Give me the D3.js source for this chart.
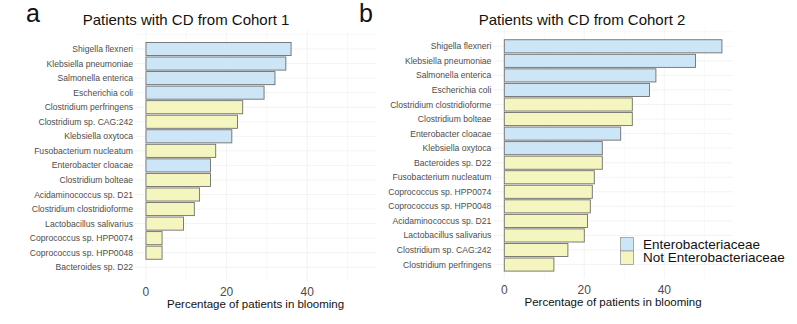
<!DOCTYPE html>
<html>
<head>
<meta charset="utf-8">
<script src="https://cdn.jsdelivr.net/npm/d3@7"></script>
<style>
  body { margin: 0; background: #fff; }
  svg { font-family: "Liberation Sans", Arial, sans-serif; display: block; }
  .grid line { stroke: #ebebeb; stroke-width: 0.6; }
  .grid line.minor { stroke: #f3f3f3; }
  .ylab { fill: #4d4d4d; font-size: 8.6px; }
  .xtick { fill: #4d4d4d; font-size: 12px; }
</style>
</head>
<body>
<div id="chart"></div>
<script>
// cohort 1 (panel a)
const speciesA = ["Shigella flexneri", "Klebsiella pneumoniae", "Salmonella enterica", "Escherichia coli",
  "Clostridium perfringens", "Clostridium sp. CAG:242", "Klebsiella oxytoca", "Fusobacterium nucleatum",
  "Enterobacter cloacae", "Clostridium bolteae", "Acidaminococcus sp. D21", "Clostridium clostridioforme",
  "Lactobacillus salivarius", "Coprococcus sp. HPP0074", "Coprococcus sp. HPP0048", "Bacteroides sp. D22"];
const valuesA = [36.0, 34.7, 32.0, 29.3, 24.0, 22.7, 21.3, 17.3, 16.0, 16.0, 13.3, 12.0, 9.3, 4.0, 4.0, 0];
const enteroA = [1, 1, 1, 1, 0, 0, 1, 0, 1, 0, 0, 0, 0, 0, 0, 0];

// cohort 2 (panel b)
const speciesB = ["Shigella flexneri", "Klebsiella pneumoniae", "Salmonella enterica", "Escherichia coli",
  "Clostridium clostridioforme", "Clostridium bolteae", "Enterobacter cloacae", "Klebsiella oxytoca",
  "Bacteroides sp. D22", "Fusobacterium nucleatum", "Coprococcus sp. HPP0074", "Coprococcus sp. HPP0048",
  "Acidaminococcus sp. D21", "Lactobacillus salivarius", "Clostridium sp. CAG:242", "Clostridium perfringens"];
const valuesB = [54.4, 47.8, 37.9, 36.3, 32.0, 32.0, 29.1, 24.5, 24.5, 22.5, 22.0, 21.5, 20.8, 20.0, 15.9, 12.4];
const enteroB = [1, 1, 1, 1, 0, 0, 1, 1, 0, 0, 0, 0, 0, 0, 0, 0];

const xTicks = [0, 20, 40];
const xMinor = [10, 30, 50];
const legendLabels = ["Enterobacteriaceae", "Not Enterobacteriaceae"];
const fills = {1: "#cce5f7", 0: "#f5f5bf"};

const W = 797, H = 324;
const svg = d3.select("#chart").append("svg").attr("width", W).attr("height", H);

const xMax = d3.max(valuesA.concat(valuesB));

function drawPanel(p) {
  const data = p.species.map((s, i) => ({name: s, value: p.values[i], entero: p.entero[i]}));
  const step = 14.55;

  const x = d3.scaleLinear()
    .domain([-0.05 * xMax, xMax * 1.05])
    .range([p.left, p.right]);

  const y = d3.scalePoint()
    .domain(data.map(d => d.name))
    .range([p.firstY, p.firstY + step * (data.length - 1)]);

  const top = p.firstY - 1.3 * step, bottom = p.firstY + step * (data.length - 1) + 0.95 * step;

  const g = svg.append("g");

  // grid
  const grid = g.append("g").attr("class", "grid");
  grid.selectAll(".vmin").data(xMinor).enter().append("line")
    .attr("class", "minor")
    .attr("x1", d => x(d)).attr("x2", d => x(d)).attr("y1", top).attr("y2", bottom);
  grid.selectAll(".vmaj").data(xTicks).enter().append("line")
    .attr("x1", d => x(d)).attr("x2", d => x(d)).attr("y1", top).attr("y2", bottom);
  grid.selectAll(".h").data(data).enter().append("line")
    .attr("x1", p.left).attr("x2", p.right)
    .attr("y1", d => y(d.name)).attr("y2", d => y(d.name));
  grid.append("line").attr("class", "minor")
    .attr("x1", p.left).attr("x2", p.right).attr("y1", p.firstY - step).attr("y2", p.firstY - step);

  // bars
  const bh = step * 0.9;
  g.selectAll(".bar").data(data).enter().append("rect")
    .attr("x", x(0))
    .attr("y", d => y(d.name) - bh / 2)
    .attr("width", d => x(d.value) - x(0))
    .attr("height", bh)
    .attr("fill", d => fills[d.entero])
    .attr("stroke", "#6e6e6e")
    .attr("stroke-width", 0.9);

  // y labels
  g.selectAll(".ylab").data(data).enter().append("text")
    .attr("class", "ylab")
    .attr("x", p.left - 2)
    .attr("y", d => y(d.name))
    .attr("dy", "0.35em")
    .attr("text-anchor", "end")
    .text(d => d.name);

  // x tick labels
  g.selectAll(".xtick").data(xTicks).enter().append("text")
    .attr("class", "xtick")
    .attr("x", d => x(d))
    .attr("y", p.tickY)
    .attr("dy", "0.35em")
    .attr("text-anchor", "middle")
    .text(d => d);

  g.append("text")
    .attr("x", (p.left + p.right) / 2)
    .attr("y", p.tickY + 12.5)
    .attr("dy", "0.35em")
    .attr("text-anchor", "middle")
    .attr("font-size", "11.5px")
    .attr("fill", "#111")
    .text("Percentage of patients in blooming");

  g.append("text")
    .attr("x", p.titleX)
    .attr("y", 20)
    .attr("dy", "0.35em")
    .attr("text-anchor", "middle")
    .attr("font-size", "15px")
    .attr("fill", "#111")
    .text(p.title);

  g.append("text")
    .attr("x", p.letterX)
    .attr("y", 13)
    .attr("dy", "0.35em")
    .attr("font-size", "25px")
    .attr("fill", "#111")
    .text(p.letter);
}

drawPanel({species: speciesA, values: valuesA, entero: enteroA, left: 135, right: 376.2, firstY: 49,
  tickY: 291.5, title: "Patients with CD from Cohort 1", titleX: 186, letter: "a", letterX: 26});
drawPanel({species: speciesB, values: valuesB, entero: enteroB, left: 493.4, right: 732.8, firstY: 46.3,
  tickY: 289.5, title: "Patients with CD from Cohort 2", titleX: 582, letter: "b", letterX: 359});

// legend
const leg = svg.append("g").attr("transform", "translate(620.5,237.5)");
leg.selectAll("rect").data(legendLabels).enter().append("rect")
  .attr("x", 0).attr("y", (d, i) => i * 13.5)
  .attr("width", 13).attr("height", 13.5)
  .attr("fill", (d, i) => fills[1 - i])
  .attr("stroke", "#9a9a9a").attr("stroke-width", 0.8);
leg.selectAll("text").data(legendLabels).enter().append("text")
  .attr("x", 22.5).attr("y", (d, i) => i * 13.5 + 6.5)
  .attr("dy", "0.35em")
  .attr("font-size", "13.5px")
  .attr("fill", "#111")
  .text(d => d);
</script>
</body>
</html>
